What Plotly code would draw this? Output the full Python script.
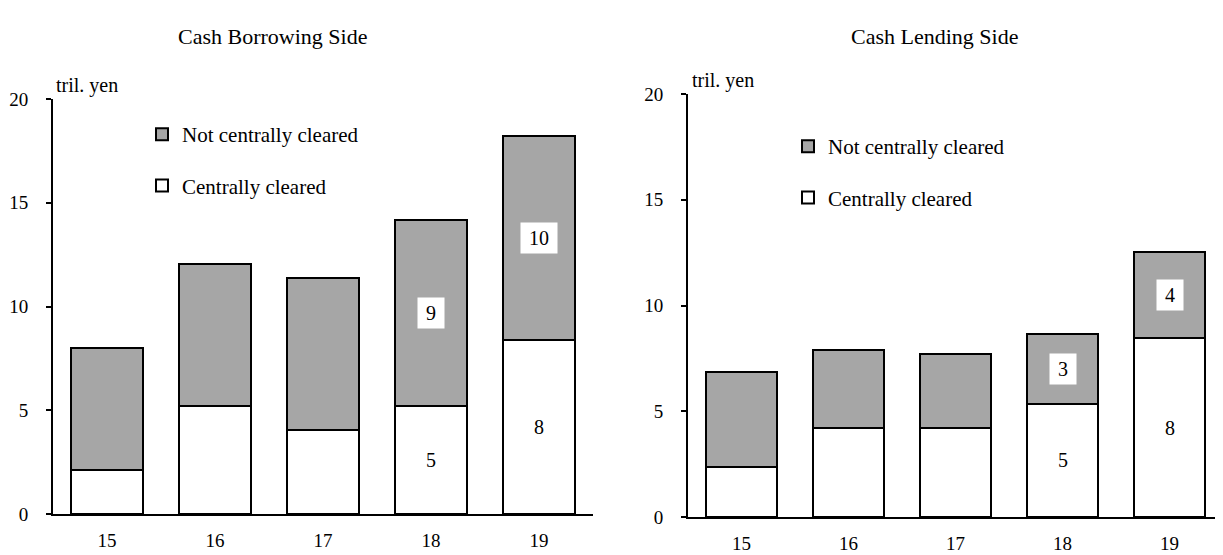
import plotly.graph_objects as go
from plotly.subplots import make_subplots

years = ["15", "16", "17", "18", "19"]

# Cash borrowing side (tril. yen)
borrow_cleared = [2.1, 5.2, 4.05, 5.2, 8.4]
borrow_not_cleared = [5.9, 6.85, 7.3, 8.95, 9.8]
borrow_cleared_labels = ["", "", "", "5", "8"]
borrow_not_cleared_labels = ["", "", "", "9", "10"]

# Cash lending side (tril. yen)
lend_cleared = [2.35, 4.2, 4.2, 5.35, 8.45]
lend_not_cleared = [4.5, 3.7, 3.5, 3.3, 4.1]
lend_cleared_labels = ["", "", "", "5", "8"]
lend_not_cleared_labels = ["", "", "", "3", "4"]

FONT = "Liberation Serif"
GRAY = "#a6a6a6"

# page body has an 8px margin, so the figure is a bit smaller than the window
W, H, OFF = 1215, 547, 8


def px(x):
    return (x - OFF) / W


def py(y):
    return 1 - (y - OFF) / H


fig = make_subplots(rows=1, cols=2)

panels = [
    (1, borrow_cleared, borrow_not_cleared, borrow_cleared_labels, borrow_not_cleared_labels, "legend"),
    (2, lend_cleared, lend_not_cleared, lend_cleared_labels, lend_not_cleared_labels, "legend2"),
]

for col, cc, ncc, cc_lab, ncc_lab, leg in panels:
    fig.add_trace(go.Bar(x=years, y=cc, name="Centrally cleared",
                         marker=dict(color="white", line=dict(color="black", width=2)),
                         legend=leg, legendgroup="cc%d" % col, legendrank=2),
                  row=1, col=col)
    fig.add_trace(go.Bar(x=years, y=ncc, name="Not centrally cleared",
                         marker=dict(color=GRAY, line=dict(color="black", width=2)),
                         legend=leg, legendgroup="ncc%d" % col, legendrank=1),
                  row=1, col=col)
    xr = "x" if col == 1 else "x2"
    yr = "y" if col == 1 else "y2"
    # category axis: annotations are placed by category index
    for i, (a, b, la, lb) in enumerate(zip(cc, ncc, cc_lab, ncc_lab)):
        if la:
            fig.add_annotation(x=i, y=a / 2, text=la, showarrow=False, xref=xr, yref=yr,
                               font=dict(family=FONT, size=20, color="black"))
        if lb:
            fig.add_annotation(x=i, y=a + b / 2, text=lb, showarrow=False, xref=xr, yref=yr,
                               bgcolor="white", borderpad=4, width=10 * len(lb) + 8,
                               font=dict(family=FONT, size=20, color="black"))

axis_common = dict(showline=True, linecolor="black", linewidth=2, showgrid=False,
                   zeroline=False, automargin=False,
                   tickfont=dict(family=FONT, size=19, color="black"))

yaxis_common = dict(range=[0, 20], tickvals=[0, 5, 10, 15, 20], ticks="outside",
                    ticklen=5, tickwidth=1.5, tickcolor="black", ticklabelstandoff=14,
                    **axis_common)
xaxis_common = dict(type="category", ticks="", ticklabelstandoff=8, **axis_common)

legend_common = dict(xanchor="left", yanchor="top", bgcolor="rgba(0,0,0,0)",
                     tracegroupgap=21, traceorder="grouped",
                     font=dict(family=FONT, size=21, color="black"))

fig.update_layout(
    barmode="stack",
    bargap=0.34,
    width=W, height=H,
    margin=dict(l=0, r=0, t=0, b=0, autoexpand=False),
    plot_bgcolor="white", paper_bgcolor="white",
    font=dict(family=FONT, color="black"),
    xaxis=dict(domain=[px(53), px(593)], **xaxis_common),
    xaxis2=dict(domain=[px(688), 1.0], **xaxis_common),
    yaxis=dict(domain=[py(514), py(99)], **yaxis_common),
    yaxis2=dict(domain=[py(517), py(94)], **yaxis_common),
    legend=dict(x=px(142), y=py(114), **legend_common),
    legend2=dict(x=px(788), y=py(126), **legend_common),
)

fig.add_annotation(text="Cash Borrowing Side", x=px(272), y=py(37), xref="paper", yref="paper",
                   xanchor="center", yanchor="middle", showarrow=False,
                   font=dict(family=FONT, size=22, color="black"))
fig.add_annotation(text="Cash Lending Side", x=px(934), y=py(37), xref="paper", yref="paper",
                   xanchor="center", yanchor="middle", showarrow=False,
                   font=dict(family=FONT, size=22, color="black"))
fig.add_annotation(text="tril. yen", x=px(54), y=py(86), xref="paper", yref="paper",
                   xanchor="left", yanchor="middle", showarrow=False,
                   font=dict(family=FONT, size=20, color="black"))
fig.add_annotation(text="tril. yen", x=px(690), y=py(81), xref="paper", yref="paper",
                   xanchor="left", yanchor="middle", showarrow=False,
                   font=dict(family=FONT, size=20, color="black"))

fig.write_html("out.html")
